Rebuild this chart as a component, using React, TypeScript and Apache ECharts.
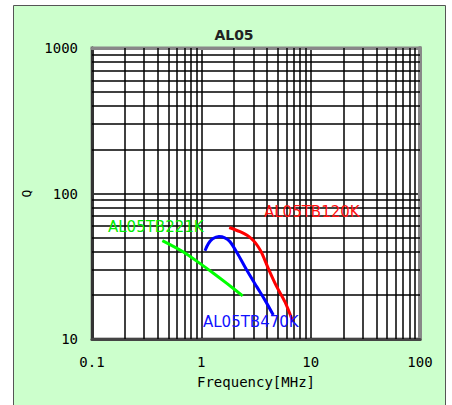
import React, { useEffect, useRef } from "react";
import * as echarts from "echarts";

const titleText = "AL05";
const xName = "Frequency[MHz]";
const yName = "Q";
const xTicks = [0.1, 1, 10, 100];
const yTicks = [10, 100, 1000];
const xMinorGrid = [0.2, 0.3, 0.4, 0.5, 0.6, 0.7, 0.8, 0.9, 2, 3, 4, 5, 6, 7, 8, 9, 20, 30, 40, 50, 60, 70, 80, 90];
const yMinorGrid = [20, 30, 40, 50, 60, 70, 80, 90, 200, 300, 400, 500, 600, 700, 800, 900];

const seriesNames = ["AL05TB221K", "AL05TB470K", "AL05TB120K"];
const greenFreq = [0.44, 0.68, 0.97, 1.29, 1.71, 2.39];
const greenQ = [47.5, 39.8, 33.1, 28.3, 24.1, 19.8];
const blueFreq = [1.08, 1.16, 1.27, 1.45, 1.64, 1.83, 2.18, 2.6, 3.21, 3.82, 4.55];
const blueQ = [40.4, 45.2, 48.8, 50.6, 49.6, 46.6, 37.8, 29.8, 22.9, 18.5, 14.6];
const redFreq = [1.8, 2.26, 2.62, 2.99, 3.3, 3.6, 4.1, 4.89, 5.82, 6.89];
const redQ = [58.4, 54.6, 51.6, 47.5, 43.2, 38.5, 30.5, 22.9, 18.0, 13.1];

const zip = (a: number[], b: number[]) => a.map((v, i) => [v, b[i]]);

export default function App() {
  const ref = useRef<HTMLDivElement>(null);
  useEffect(() => {
    if (!ref.current) return;
    const chart = echarts.init(ref.current, null, { renderer: "svg" });
    const mono = "DejaVu Sans Mono";
    const gridLine = { color: "#000", width: 1.5, type: "solid" as const };
    const hidden = {
      axisTick: { show: false },
      axisLabel: { show: false },
      splitLine: { show: false },
    };
    const option: any = {
      animation: false,
      backgroundColor: "#ffffff",
      title: {
        text: titleText,
        left: 229,
        top: 23,
        textAlign: "center",
        textStyle: { fontFamily: "DejaVu Sans", fontSize: 14, fontWeight: "bold", color: "#222" },
      },
      grid: {
        left: 92,
        right: 32,
        top: 48,
        bottom: 66,
        show: true,
        backgroundColor: "#ffffff",
        borderColor: "#888",
        borderWidth: 3,
      },
      xAxis: [
        {
          type: "log",
          logBase: 10,
          min: 0.1,
          max: 100,
          name: xName,
          nameLocation: "middle",
          nameGap: 36,
          nameTextStyle: { fontFamily: mono, fontSize: 14, color: "#000" },
          axisLine: { show: true, lineStyle: { color: "#444", width: 3 } },
          axisTick: { show: false },
          axisLabel: {
            fontFamily: mono,
            fontSize: 14,
            color: "#000",
            margin: 16,
            formatter: (v: number) => {
              const m = xTicks.find((t) => Math.abs(t - v) / t < 1e-6);
              return m !== undefined ? String(m) : "";
            },
          },
          splitLine: { show: true, lineStyle: gridLine },
        },
        {
          type: "log",
          logBase: 10,
          min: 0.1,
          max: 100,
          position: "top",
          axisLine: { show: true, lineStyle: { color: "#888", width: 3 } },
          ...hidden,
        },
      ],
      yAxis: [
        {
          type: "log",
          logBase: 10,
          min: 10,
          max: 1000,
          name: yName,
          nameLocation: "middle",
          nameRotate: 90,
          nameGap: 55,
          nameTextStyle: { fontFamily: mono, fontSize: 13, color: "#000" },
          axisLine: { show: true, lineStyle: { color: "#333", width: 3 } },
          axisTick: { show: false },
          axisLabel: {
            fontFamily: mono,
            fontSize: 14,
            color: "#000",
            margin: 14,
            formatter: (v: number) => {
              const m = yTicks.find((t) => Math.abs(t - v) / t < 1e-6);
              return m !== undefined ? String(m) : "";
            },
          },
          splitLine: { show: true, lineStyle: gridLine },
        },
        {
          type: "log",
          logBase: 10,
          min: 10,
          max: 1000,
          position: "right",
          axisLine: { show: true, lineStyle: { color: "#888", width: 4 } },
          ...hidden,
        },
      ],
      graphic: [
        {
          type: "rect",
          z: -100,
          silent: true,
          shape: { x: 13.5, y: 5.5, width: 432, height: 420 },
          style: { fill: "#CCFFCC", stroke: "#555", lineWidth: 1 },
        },
        {
          type: "text",
          z: 100,
          left: 108,
          top: 219,
          style: { text: seriesNames[0], fill: "#00EE00", font: "15px 'DejaVu Sans'" },
        },
        {
          type: "text",
          z: 100,
          left: 203,
          top: 314,
          style: { text: seriesNames[1], fill: "#1010FF", font: "15px 'DejaVu Sans'" },
        },
        {
          type: "text",
          z: 100,
          left: 264,
          top: 204,
          style: { text: seriesNames[2], fill: "#FF1010", font: "15px 'DejaVu Sans'" },
        },
      ],
      series: [
        {
          type: "line",
          name: "minorGrid",
          data: [],
          silent: true,
          z: 1,
          markLine: {
            silent: true,
            symbol: "none",
            label: { show: false },
            lineStyle: { color: "#000", width: 1.5, type: "solid" },
            data: [
              ...xMinorGrid.map((v) => ({ xAxis: v })),
              ...yMinorGrid.map((v) => ({ yAxis: v })),
            ],
          },
        },
        {
          type: "line",
          name: seriesNames[0],
          data: zip(greenFreq, greenQ),
          smooth: 0.3,
          showSymbol: false,
          z: 5,
          lineStyle: { color: "#00FF00", width: 3 },
        },
        {
          type: "line",
          name: seriesNames[1],
          data: zip(blueFreq, blueQ),
          smooth: 0.3,
          showSymbol: false,
          z: 5,
          lineStyle: { color: "#0000FF", width: 3 },
        },
        {
          type: "line",
          name: seriesNames[2],
          data: zip(redFreq, redQ),
          smooth: 0.3,
          showSymbol: false,
          z: 5,
          lineStyle: { color: "#FF0000", width: 3 },
        },
      ],
    };
    chart.setOption(option);
    return () => chart.dispose();
  }, []);
  return (
    <div
      ref={ref}
      style={{ position: "fixed", left: 0, top: 0, width: 452, height: 405 }}
    />
  );
}
